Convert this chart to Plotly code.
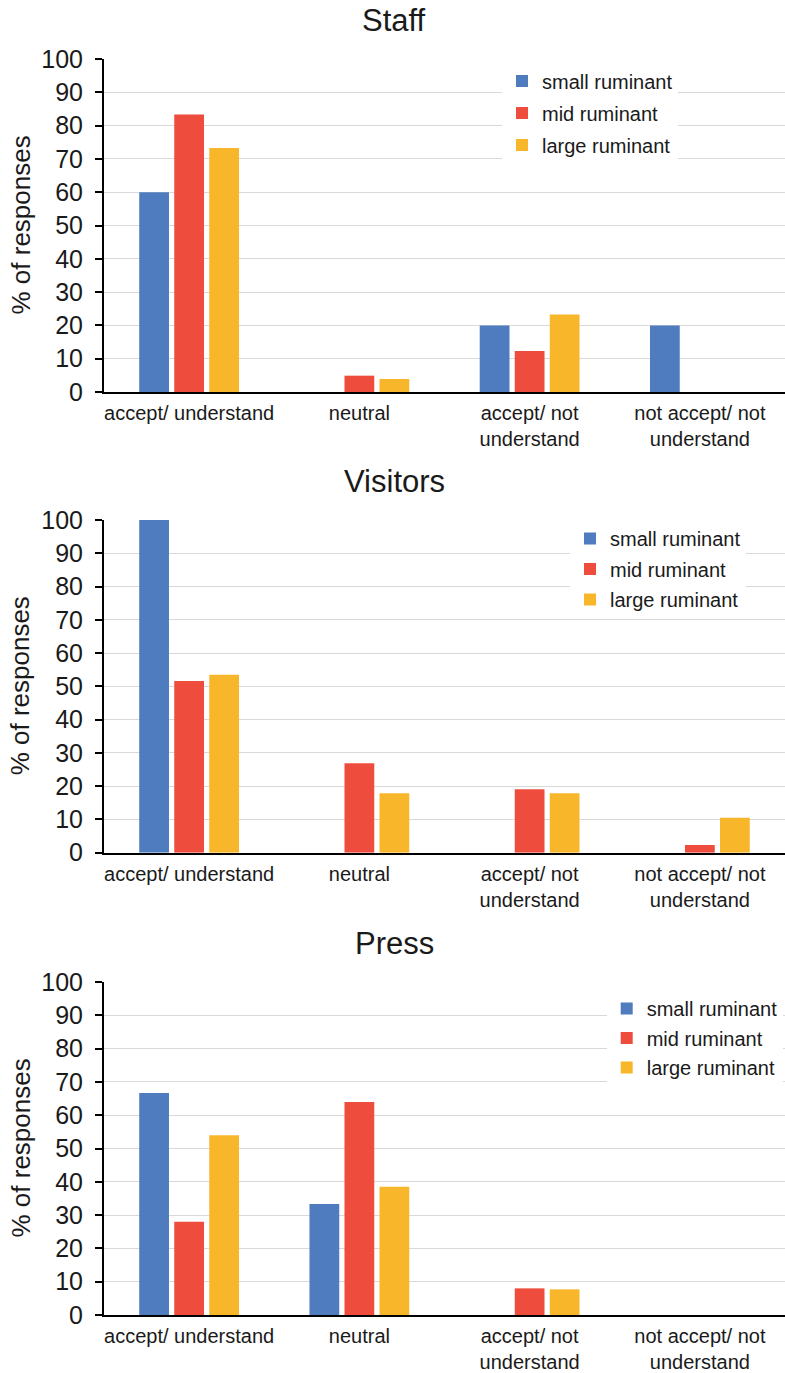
import plotly.graph_objects as go

# Response categories (x axis) and the three ruminant groups
categories = [
    "accept/ understand",
    "neutral",
    "accept/ not<br>understand",
    "not accept/ not<br>understand",
]
series_names = ["small ruminant", "mid ruminant", "large ruminant"]
series_colors = ["#4f7bbf", "#ee4d3d", "#f8b72b"]

# % of responses per group
staff_small = [60, 0, 20, 20]
staff_mid = [83.3, 4.9, 12.3, 0]
staff_large = [73.3, 3.9, 23.3, 0]

visitors_small = [100, 0, 0, 0]
visitors_mid = [51.6, 26.9, 19.1, 2.3]
visitors_large = [53.5, 17.9, 17.9, 10.5]

press_small = [66.7, 33.3, 0, 0]
press_mid = [28, 64, 8, 0]
press_large = [54, 38.5, 7.7, 0]

panel_titles = ["Staff", "Visitors", "Press"]
y_ticks = list(range(0, 101, 10))

panels = [
    [staff_small, staff_mid, staff_large],
    [visitors_small, visitors_mid, visitors_large],
    [press_small, press_mid, press_large],
]

W, H = 785, 1373
ML = 104
PW = W - ML


def py(pix):
    return (H - pix) / H


def px(pix):
    return (pix - ML) / PW


# vertical extent (top, bottom) of each plot area in pixels
panel_px = [(59, 392), (520, 852.7), (982, 1315)]
title_px = [20, 481.7, 943]
# legend box left / top in pixels, plus gap between entries
legend_pos = [(502, 61.5, 3), (570, 519, 1.5), (606.7, 989, 0.5)]

FONT = "Liberation Sans, Arial, sans-serif"
TXT = "#1a1a1a"

fig = go.Figure()
layout = dict(
    width=W,
    height=H,
    autosize=False,
    margin=dict(l=ML, r=0, t=0, b=0, autoexpand=False),
    plot_bgcolor="white",
    paper_bgcolor="white",
    font=dict(family=FONT, color=TXT),
    barmode="group",
    bargap=0.383,
    bargroupgap=0.15,
    annotations=[],
)

for p, series in enumerate(panels):
    idx = "" if p == 0 else str(p + 1)
    legend_name = "legend" + idx
    for s, vals in enumerate(series):
        fig.add_trace(
            go.Bar(
                x=categories,
                y=vals,
                name=series_names[s],
                marker=dict(color=series_colors[s], line=dict(width=0)),
                xaxis="x" + idx,
                yaxis="y" + idx,
                legend=legend_name,
                legendgroup=f"{p}-{s}",
                showlegend=True,
            )
        )
    top, bot = panel_px[p]
    layout["xaxis" + idx] = dict(
        domain=[0, 1],
        anchor="y" + idx,
        type="category",
        categoryorder="array",
        categoryarray=categories,
        showline=True,
        linecolor="black",
        linewidth=2,
        ticks="",
        showgrid=False,
        automargin=False,
        ticklabelstandoff=2,
        tickfont=dict(size=20, family=FONT, color=TXT),
    )
    layout["yaxis" + idx] = dict(
        domain=[py(bot), py(top)],
        anchor="x" + idx,
        range=[0, 100],
        tickvals=y_ticks,
        showline=True,
        linecolor="black",
        linewidth=2,
        ticks="outside",
        ticklen=7,
        tickwidth=1.5,
        tickcolor="black",
        showgrid=True,
        gridcolor="#d9d9d9",
        gridwidth=1.2,
        zeroline=False,
        automargin=False,
        ticklabelstandoff=7,
        tickfont=dict(size=25, family=FONT, color=TXT),
    )
    lx, ly, gap = legend_pos[p]
    layout[legend_name] = dict(
        x=px(lx),
        y=py(ly),
        xanchor="left",
        yanchor="top",
        bgcolor="white",
        borderwidth=0,
        traceorder="grouped",
        tracegroupgap=gap,
        font=dict(size=20, family=FONT, color=TXT),
    )
    layout["annotations"].append(
        dict(
            text=panel_titles[p],
            x=px(394),
            y=py(title_px[p]),
            xref="paper",
            yref="paper",
            xanchor="center",
            yanchor="middle",
            showarrow=False,
            font=dict(size=31, family=FONT, color=TXT),
        )
    )
    layout["annotations"].append(
        dict(
            text="% of responses",
            x=px(20),
            y=py((top + bot) / 2),
            xref="paper",
            yref="paper",
            xanchor="center",
            yanchor="middle",
            textangle=-90,
            showarrow=False,
            font=dict(size=26, family=FONT, color=TXT),
        )
    )

fig.update_layout(**layout)
fig.write_html("out.html")
